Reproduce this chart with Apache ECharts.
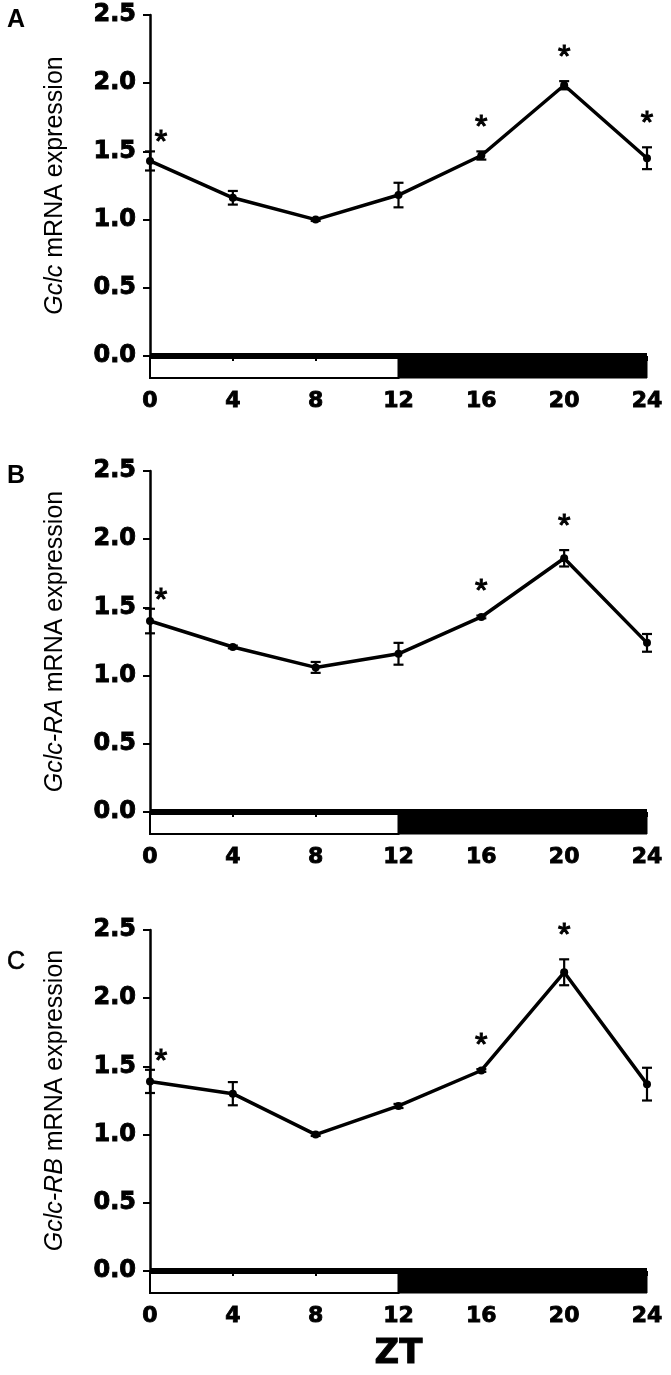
<!DOCTYPE html>
<html>
<head>
<meta charset="utf-8">
<script src="https://cdn.jsdelivr.net/npm/echarts@6/dist/echarts.min.js"></script>
<style>
html,body{margin:0;padding:0;background:#fff;}
#chart{width:671px;height:1375px;}
</style>
</head>
<body>
<div id="chart"></div>
<script>
// ---- data ----
const zt = [0, 4, 8, 12, 16, 20, 24];
const xTicks = [0, 4, 8, 12, 16, 20, 24];
const yTicks = [0, 0.5, 1.0, 1.5, 2.0, 2.5];

const meanA = [1.43, 1.16, 1.00, 1.18, 1.47, 1.985, 1.45];
const semA  = [0.07, 0.05, 0.01, 0.09, 0.03, 0.03, 0.08];
const starsA = [0, 16, 20, 24];

const meanB = [1.40, 1.21, 1.06, 1.16, 1.43, 1.86, 1.24];
const semB  = [0.09, 0.01, 0.04, 0.08, 0.01, 0.06, 0.065];
const starsB = [0, 16, 20];

const meanC = [1.39, 1.30, 1.00, 1.21, 1.47, 2.19, 1.37];
const semC  = [0.085, 0.085, 0.01, 0.015, 0.01, 0.095, 0.12];
const starsC = [0, 16, 20];

const lightDark = [[0, 12, 'light'], [12, 24, 'dark']];

const panelLetters = ['A', 'B', 'C'];
const geneNames = ['Gclc', 'Gclc-RA', 'Gclc-RB'];
const xTitle = 'ZT';

// ---- layout ----
const panelTops = [15, 471, 930];
const mainH = 341;
const ldH = 22;
const gridLeft = 150, gridRight = 24;
const tickFont = 'DejaVu Sans';
const textFont = 'Liberation Sans, Arial, sans-serif';

const means = [meanA, meanB, meanC];
const sems = [semA, semB, semC];
const stars = [starsA, starsB, starsC];

function renderErr(params, api) {
  const x = api.value(0), lo = api.value(1), hi = api.value(2);
  const pLo = api.coord([x, lo]), pHi = api.coord([x, hi]);
  const hw = 5;
  const st = {stroke: '#000', lineWidth: 2.2};
  return {type: 'group', children: [
    {type: 'line', shape: {x1: pLo[0], y1: pLo[1], x2: pHi[0], y2: pHi[1]}, style: st},
    {type: 'line', shape: {x1: pLo[0] - hw, y1: pLo[1], x2: pLo[0] + hw, y2: pLo[1]}, style: st},
    {type: 'line', shape: {x1: pHi[0] - hw, y1: pHi[1], x2: pHi[0] + hw, y2: pHi[1]}, style: st}
  ]};
}

function renderLD(params, api) {
  const s = api.coord([api.value(0), 1]);
  const e = api.coord([api.value(1), 0]);
  const light = api.value(2) === 'light';
  return {
    type: 'rect',
    shape: {x: s[0], y: s[1], width: e[0] - s[0], height: e[1] - s[1]},
    style: light ? {fill: '#fff', stroke: '#000', lineWidth: 2} : {fill: '#000', stroke: '#000', lineWidth: 1}
  };
}

const heavy = {textBorderColor: '#000', textBorderWidth: 0.9};

const grids = [], xAxes = [], yAxes = [], series = [], titles = [];

for (let p = 0; p < 3; p++) {
  const top = panelTops[p];
  grids.push({left: gridLeft, right: gridRight, top: top, height: mainH});
  grids.push({left: gridLeft, right: gridRight, top: top + mainH, height: ldH});
  const gi = p * 2;

  xAxes.push({
    gridIndex: gi, type: 'value', min: 0, max: 24, interval: 4, z: 6,
    axisLine: {show: true, onZero: false, lineStyle: {color: '#000', width: 6, cap: 'butt'}},
    axisTick: {show: true, length: 5, lineStyle: {color: '#000', width: 2}},
    axisLabel: {show: false}, splitLine: {show: false}
  });
  xAxes.push({
    gridIndex: gi + 1, type: 'value', min: 0, max: 24, interval: 4,
    axisLine: {show: false}, axisTick: {show: false}, splitLine: {show: false},
    axisLabel: Object.assign({show: true, margin: 12, color: '#000', fontFamily: tickFont, fontWeight: 'bold', fontSize: 22,
      showMinLabel: true, showMaxLabel: true}, heavy),
    name: p === 2 ? xTitle : '',
    nameLocation: 'middle', nameGap: 44,
    nameTextStyle: Object.assign({color: '#000', fontFamily: tickFont, fontWeight: 'bold', fontSize: 34}, heavy)
  });

  yAxes.push({
    gridIndex: gi, type: 'value', min: 0, max: 2.5, interval: 0.5,
    axisLine: {show: true, lineStyle: {color: '#000', width: 2.5}},
    axisTick: {show: true, length: 7, lineStyle: {color: '#000', width: 2}},
    axisLabel: Object.assign({margin: 14, color: '#000', fontFamily: tickFont, fontWeight: 'bold', fontSize: 24,
      formatter: v => v.toFixed(1)}, heavy),
    splitLine: {show: false},
    name: '{i|' + geneNames[p] + '} mRNA expression',
    nameLocation: 'middle', nameGap: 82,
    nameTextStyle: {color: '#000', fontFamily: textFont, fontSize: 25,
      rich: {i: {fontStyle: 'italic', fontFamily: textFont, fontSize: 25, color: '#000'}}}
  });
  yAxes.push({
    gridIndex: gi + 1, type: 'value', min: 0, max: 1, show: false
  });

  const m = means[p], s = sems[p];
  series.push({
    type: 'custom', xAxisIndex: gi + 1, yAxisIndex: gi + 1,
    renderItem: renderLD, data: lightDark, silent: true, z: 1
  });
  series.push({
    type: 'custom', xAxisIndex: gi, yAxisIndex: gi,
    renderItem: renderErr,
    data: zt.map((x, i) => [x, m[i] - s[i], m[i] + s[i]]),
    clip: false, z: 3
  });
  series.push({
    type: 'line', xAxisIndex: gi, yAxisIndex: gi,
    data: zt.map((x, i) => [x, m[i]]),
    symbol: 'circle', symbolSize: 8,
    lineStyle: {color: '#000', width: 3.5},
    itemStyle: {color: '#000'},
    clip: false, z: 4
  });
  series.push({
    type: 'scatter', xAxisIndex: gi, yAxisIndex: gi,
    data: stars[p].map(x => {
      const i = zt.indexOf(x);
      const v = [x, m[i] + s[i]];
      return x === 0
        ? {value: v, label: {offset: [11, -8]}}
        : {value: v, label: {offset: [0, -23]}};
    }),
    symbolSize: 1, itemStyle: {color: 'rgba(255,255,255,0)'}, clip: false, z: 5,
    label: {
      show: true, position: 'inside', formatter: '*', opacity: 1,
      color: '#000', fontFamily: textFont, fontSize: 32,
      textBorderColor: '#000', textBorderWidth: 1.1
    }
  });

  titles.push({
    text: panelLetters[p], left: 7, top: p === 2 ? 950 : top - 7, padding: 0,
    textStyle: Object.assign({color: '#000', fontFamily: textFont, fontSize: 25,
      fontWeight: p === 2 ? 'normal' : 'bold'}, p === 2 ? {textBorderColor: '#000', textBorderWidth: 0.6} : {})
  });
}

const chart = echarts.init(document.getElementById('chart'), null, {renderer: 'canvas'});
chart.setOption({
  animation: false,
  backgroundColor: '#fff',
  title: titles,
  grid: grids,
  xAxis: xAxes,
  yAxis: yAxes,
  series: series
});
</script>
</body>
</html>
